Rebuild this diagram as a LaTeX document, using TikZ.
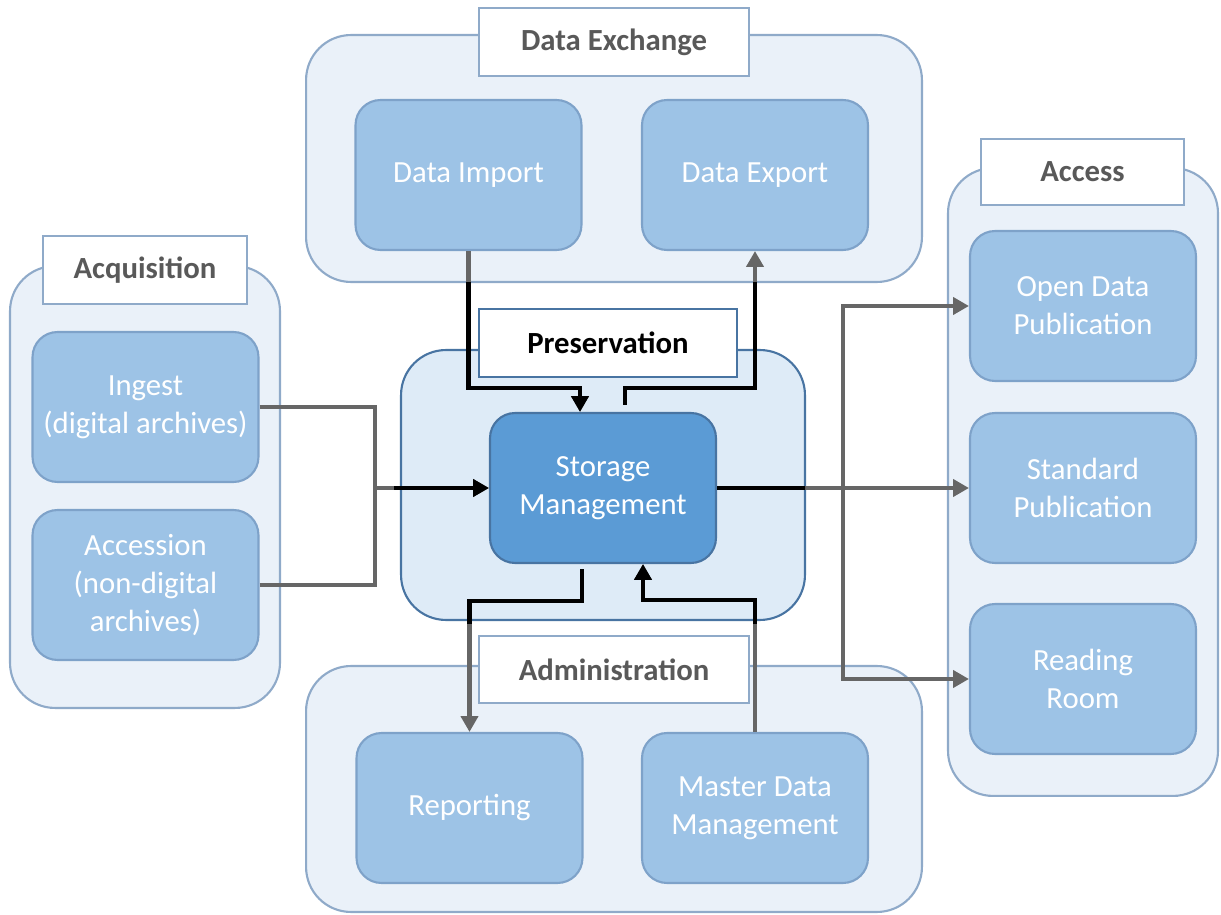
\documentclass[tikz,border=0pt]{standalone}
\usepackage{fontspec}
\setmainfont{Carlito}
\usetikzlibrary{arrows.meta,positioning,calc}
\definecolor{pale}{RGB}{234,241,249}
\definecolor{rim}{RGB}{143,170,201}
\definecolor{unitfill}{RGB}{157,195,230}
\definecolor{unitrim}{RGB}{126,162,201}
\definecolor{core}{RGB}{222,235,247}
\definecolor{corerim}{RGB}{72,116,162}
\definecolor{store}{RGB}{91,155,213}
\definecolor{slate}{RGB}{89,89,89}
\definecolor{wire}{RGB}{102,102,102}
\tikzset{
  >={Triangle[length=9pt,width=9.6pt]},
  group/.style={draw=rim,fill=pale,line width=1.2pt,rounded corners=0.9cm},
  core group/.style={draw=corerim,fill=core,line width=1.2pt,rounded corners=0.9cm,
    minimum width=8.08cm,minimum height=5.4cm},
  title/.style={draw=rim,fill=white,line width=1.2pt,minimum height=1.36cm,
    font=\fontsize{17.5}{21}\selectfont\bfseries,text=slate},
  unit/.style={draw=unitrim,fill=unitfill,line width=1.2pt,rounded corners=0.5cm,
    minimum width=4.52cm,minimum height=3cm,align=center,text=white,
    font=\fontsize{17.5}{21.5}\selectfont},
  unit/.default=unitfill,
  flow/.style={line width=2.8pt,draw=#1},
  flow/.default=wire,
}
% all connectors, drawn once in grey and once in black inside the core
\newcommand{\wiring}[1]{
  \draw[flow=#1] (ingest.east) -| (merge);
  \draw[flow=#1] (accession.east) -| (merge);
  \draw[flow=#1,->] (merge) -- (storage.west);
  \draw[flow=#1,->] (import.south) |- (inbend) -- (storage.north -| inbend);
  \draw[flow=#1,->,shorten <=4pt] (storage.north -| outbend) -- (outbend) -| (export.south);
  \draw[flow=#1,->] (storage.east) -- (standard.west);
  \draw[flow=#1,->] (fork) |- (opendata.west);
  \draw[flow=#1,->] (fork) |- (reading.west);
  \draw[flow=#1,->,shorten <=3pt] (storage.south -| downbend) -- (downbend) -| (reporting.north);
  \draw[flow=#1,->] (masterdata.north) |- (upbend) -- (storage.south -| upbend);
}

\begin{document}
\begin{tikzpicture}[x=0.02cm,y=-0.02cm]
  \useasboundingbox (0,0) rectangle (1221,915);

  % groups
  \node[group,minimum width=12.32cm,minimum height=4.94cm] (exchange) at (614,158.5) {};
  \node[group,minimum width=5.4cm,minimum height=12.56cm] (access) at (1083,482) {};
  \node[group,minimum width=5.4cm,minimum height=8.84cm] (acquisition) at (145,487) {};
  \node[group,minimum width=12.32cm,minimum height=4.92cm] (admin) at (614,789) {};
  \node[core group] (preservation) at (603,485) {};

  \node[title,minimum width=5.4cm] (exchangetitle) at (614,42) {Data Exchange};
  \node[title,minimum width=4.06cm,minimum height=1.32cm] (accesstitle) at (1082.5,172) {Access};
  \node[title,minimum width=4.08cm] (acquisitiontitle) at (145,270) {Acquisition};
  \node[title,minimum width=5.4cm,minimum height=1.34cm] (admintitle) at (614,669.5) {Administration};
  \node[title,draw=corerim,text=black,minimum width=5.16cm] (preservationtitle) at (608,343) {Preservation};

  % units
  \node[unit] (import) at (468.5,175) {Data Import};
  \node[unit] (export) at (755,175) {Data Export};
  \node[unit] (opendata) at (1083,306) {Open Data\\Publication};
  \node[unit] (standard) at (1083,488) {Standard\\Publication};
  \node[unit] (reading) at (1083,679) {Reading\\Room};
  \node[unit] (ingest) at (145.5,407) {Ingest\\(digital archives)};
  \node[unit] (accession) at (145.5,585) {Accession\\(non-digital\\archives)};
  \node[unit,draw=corerim,fill=store] (storage) at (603,488) {Storage\\Management};
  \node[unit] (reporting) at (469.5,808) {Reporting};
  \node[unit] (masterdata) at (755,808) {Master Data\\Management};

  % bends
  \coordinate (merge) at (375,488);
  \coordinate (inbend) at (580,388);
  \coordinate (outbend) at (625,388);
  \coordinate (fork) at (843,488);
  \coordinate (downbend) at (582,601);
  \coordinate (upbend) at (643,600);

  \wiring{wire}
  \begin{scope}
    \clip (394,283) rectangle (805,623);
    \wiring{black}
  \end{scope}
\end{tikzpicture}
\end{document}
